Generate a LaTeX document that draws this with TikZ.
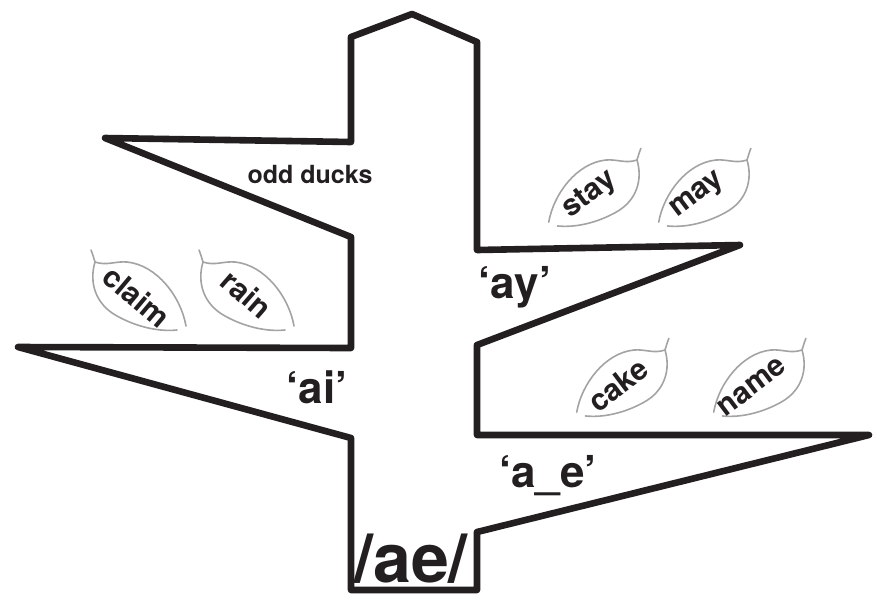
\documentclass[tikz,border=0pt]{standalone}
\usepackage{fontspec}
\setmainfont{TeX Gyre Heros}
\definecolor{ink}{HTML}{231F20}
\definecolor{leafgray}{HTML}{A3A3A3}
\begin{document}
\begin{tikzpicture}[x=0.5pt,y=-0.5pt,
  treeline/.style={draw=ink,line width=3.3pt,line join=round,line cap=round},
  leafline/.style={draw=leafgray,line width=0.8pt,line cap=round},
  branchlabel/.style={text=ink,font=\bfseries\fontsize{22}{22}\selectfont,inner sep=0pt,anchor=base},
  leaflabel/.style={text=ink,font=\bfseries\fontsize{15}{15}\selectfont,inner sep=0pt},
  leafshape/.pic={
    \draw[leafline] (-4,-12) .. controls (-2,-7) and (-1,-3) .. (0,0);
    \draw[leafline] (0,0) .. controls (12,4) and (20,-1) .. (32,0) .. controls (62,3) and (86,35) .. (91,64);
    \draw[leafline] (0,0) .. controls (-6,20) and (0,42) .. (22,54) .. controls (40,64) and (62,70) .. (82,68);
  }
]
\useasboundingbox (0,0) rectangle (876,596);
% tree outline
\draw[treeline] (351,590) -- (351,438) -- (18,347) -- (351,348) -- (351,237)
  -- (105,138) -- (351,142) -- (351,37) -- (412,14) -- (477,42) -- (477,250)
  -- (740,245) -- (477,345) -- (477,435) -- (869,435) -- (477,532) -- (477,590) -- cycle;
% leaves
\pic at (95,262) {leafshape};
\pic at (203,262) {leafshape};
\pic[xscale=-1,scale=0.97] at (637,160) {leafshape};
\pic[xscale=-1,scale=0.97] at (747,160) {leafshape};
\pic[xscale=-1,scale=0.97] at (665,350) {leafshape};
\pic[xscale=-1,scale=0.97] at (802,350) {leafshape};
% leaf words
\node[leaflabel,rotate=-40] (claim) at (137,297) {claim};
\node[leaflabel,rotate=-41] (rain) at (247,294) {rain};
\node[leaflabel,rotate=37] (stay) at (590,195) {stay};
\node[leaflabel,rotate=37] (may) at (698,196) {may};
\node[leaflabel,rotate=37] (cake) at (618,385) {cake};
\node[leaflabel,rotate=37] (name) at (752,387) {name};
% labels
\node[text=ink,font=\bfseries\fontsize{12.5}{12.5}\selectfont,inner sep=0pt,anchor=base] (odd) at (310,183) {odd ducks};
\node[branchlabel] (ay) at (515,298) {‘ay’};
\node[branchlabel] (ai) at (317,403) {‘ai’};
\node[branchlabel] (ae) at (548,487) {‘a\_e’};
\node[branchlabel,font=\bfseries\fontsize{34}{34}\selectfont] (root) at (411,582) {/ae/};
\end{tikzpicture}
\end{document}
